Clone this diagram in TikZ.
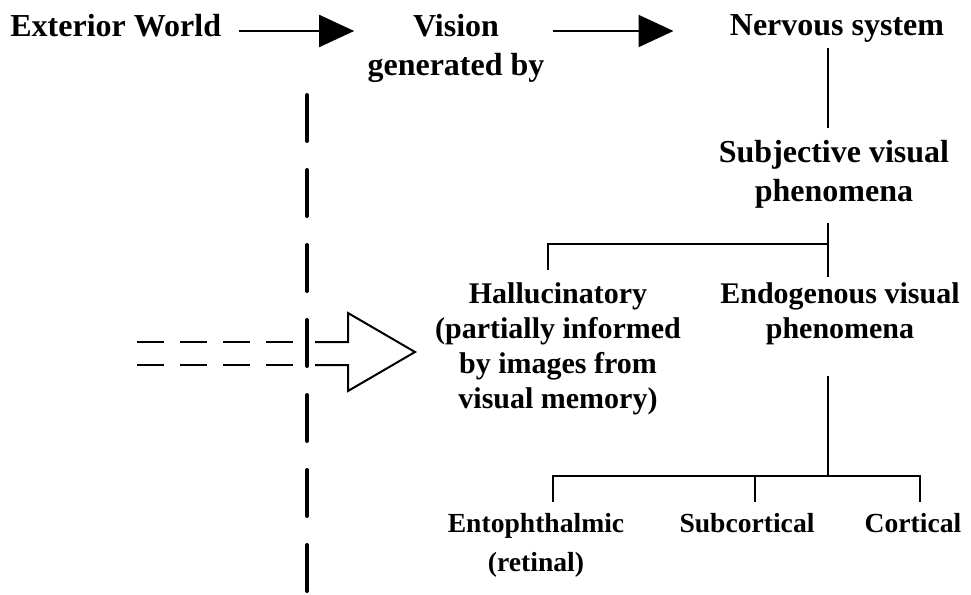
\documentclass[tikz,border=0pt]{standalone}
\usepackage{fontspec}
\setmainfont{Liberation Serif}
\usetikzlibrary{arrows.meta,calc}

\begin{document}
\begin{tikzpicture}[
    x=0.5pt, y=-0.5pt,
    every node/.style={inner sep=0pt, font=\bfseries},
    heading/.style={anchor=base, align=center, font=\bfseries\fontsize{16}{19.5}\selectfont},
    branch/.style={anchor=base, align=center, font=\bfseries\fontsize{15}{17.5}\selectfont},
    leaf/.style={anchor=base, align=center, font=\bfseries\fontsize{13.8}{19.5}\selectfont},
    link/.style={line width=1pt},
    flow/.style={line width=1pt, -{Triangle[length=17.5pt, width=16pt]}},
    divider/.style={line width=2pt, line cap=round, dash pattern=on 23pt off 14.5pt},
    beam/.style={line width=1.2pt, dash pattern=on 13.5pt off 8pt}
]
\useasboundingbox (0,0) rectangle (971,595);

% Top row (base = last line)
\node[heading, anchor=base west] (ext) at (10,36) {Exterior World};
\node[heading] (vis) at (456,75) {Vision\\generated by};
\node[heading] (ns)  at (837,35) {Nervous system};
\node[heading] (sv)  at (834,201) {Subjective visual\\phenomena};

% Middle row
\node[branch] (hal)  at (558,408) {Hallucinatory\\(partially informed\\by images from\\visual memory)};
\node[branch] (endo) at (840,338) {Endogenous visual\\phenomena};

% Bottom row
\node[leaf] (ento) at (536,571) {Entophthalmic\\(retinal)};
\node[leaf] (sub)  at (747,532) {Subcortical};
\node[leaf] (cort) at (913,532) {Cortical};

\coordinate (trunk) at (828,0);

% Arrows along the top
\draw[flow] ($(ext.base east)+(9pt,2.5pt)$) -- ($(ext.base east -| vis.west)+(-6.5pt,2.5pt)$);
\draw[flow] ($(ext.base east -| vis.east)+(4pt,2.5pt)$) -- ($(ext.base east -| ns.west)+(-28pt,2.5pt)$);

% Tree
\draw[link] ($(ns.south -| trunk)+(0,-3pt)$) -- ($(sv.north -| trunk)+(0,5.5pt)$);
\draw[link] ($(sv.south -| trunk)+(0,-7.5pt)$) -- ($(endo.north -| trunk)+(0,2.3pt)$);
\draw[link] ($(hal.north)+(-5pt,5.8pt)$) |- ($(sv.south -| trunk)+(0,-18pt)$);
\draw[link] ($(endo.south -| trunk)+(0,-15.7pt)$) -- ($(cort.north -| trunk)+(0,18.3pt)$);
\draw[link] ($(ento.north)+(8.5pt,5.3pt)$) |- ($(cort.north)+(3.5pt,18.3pt)$) -- ($(cort.north)+(3.5pt,5.3pt)$);
\draw[link] ($(sub.north)+(4pt,5.3pt)$) -- +(0,13pt);

% Boundary line and incoming beam
\draw[divider] (307,95) -- (307,595);
\draw[beam] (137,342) -- (293,342);
\draw[beam] (137,365) -- (293,365);
\draw[link, line join=miter] (315,342) -- (348,342) -- (348,313) -- (415,352)
    -- (348,391) -- (348,365) -- (315,365);

\end{tikzpicture}
\end{document}
